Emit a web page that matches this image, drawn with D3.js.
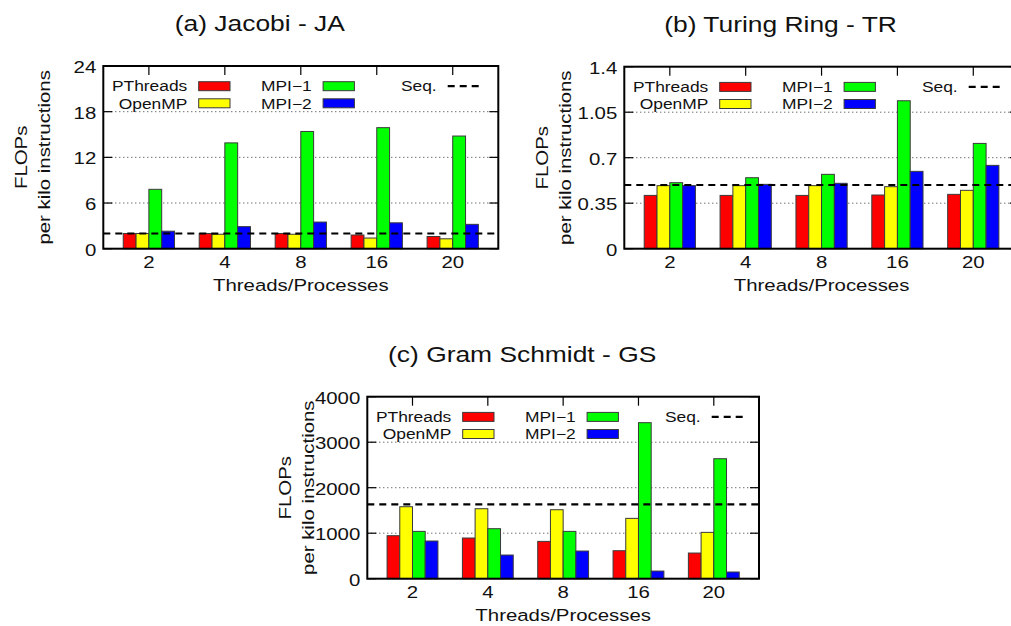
<!DOCTYPE html>
<html>
<head>
<meta charset="utf-8">
<script src="https://cdn.jsdelivr.net/npm/d3@7"></script>
<style>
  body { margin: 0; background: #fff; }
  text { font-family: "Liberation Sans", Arial, sans-serif; fill: #111; }
</style>
</head>
<body>
<div id="chart"></div>
<script>
// categories and series
var threads = ["2", "4", "8", "16", "20"];
var seriesNames = ["PThreads", "OpenMP", "MPI\u22121", "MPI\u22122"];
var seriesColors = ["#ff0000", "#ffff00", "#00ff00", "#0000ff"];

// (a) Jacobi - JA
var jaPThreads = [2.0, 2.0, 2.0, 1.8, 1.6];
var jaOpenMP   = [2.0, 1.9, 1.9, 1.4, 1.3];
var jaMPI1     = [7.8, 13.9, 15.4, 15.9, 14.8];
var jaMPI2     = [2.3, 2.9, 3.5, 3.4, 3.2];
var jaSeq = 2.0;
var jaTicks = [0, 6, 12, 18, 24];

// (b) Turing Ring - TR
var trPThreads = [0.41, 0.41, 0.41, 0.413, 0.418];
var trOpenMP   = [0.485, 0.485, 0.485, 0.477, 0.449];
var trMPI1     = [0.508, 0.546, 0.572, 1.138, 0.81];
var trMPI2     = [0.485, 0.495, 0.503, 0.595, 0.641];
var trSeq = 0.49;
var trTicks = [0, 0.35, 0.7, 1.05, 1.4];

// (c) Gram Schmidt - GS
var gsPThreads = [945, 894, 820, 615, 564];
var gsOpenMP   = [1582, 1538, 1516, 1326, 1018];
var gsMPI1     = [1040, 1099, 1040, 3429, 2637];
var gsMPI2     = [828, 520, 608, 168, 147];
var gsSeq = 1634;
var gsTicks = [0, 1000, 2000, 3000, 4000];

var STRETCH = 1.2; // the reference fonts run wider than Liberation Sans

var svg = d3.select("#chart").append("svg")
    .attr("width", 1011)
    .attr("height", 626);

var panels = [
    { title: "(a) Jacobi - JA", values: [jaPThreads, jaOpenMP, jaMPI1, jaMPI2], seq: jaSeq, ticks: jaTicks,
      left: 103.3, top: 66, width: 395, height: 182.7 },
    { title: "(b) Turing Ring - TR", values: [trPThreads, trOpenMP, trMPI1, trMPI2], seq: trSeq, ticks: trTicks,
      left: 624.3, top: 66.7, width: 394.5, height: 182 },
    { title: "(c) Gram Schmidt - GS", values: [gsPThreads, gsOpenMP, gsMPI1, gsMPI2], seq: gsSeq, ticks: gsTicks,
      left: 367.3, top: 396.7, width: 391.7, height: 182 }
];

function addText(g, x, y, str, size, anchor, rotate) {
    return g.append("text")
        .attr("transform", "translate(" + x + "," + y + ")" + (rotate ? " rotate(" + rotate + ")" : "") + " scale(" + STRETCH + ",1)")
        .attr("text-anchor", anchor || "start")
        .style("font-size", size + "px")
        .text(str);
}

function drawPanel(p) {
    var g = svg.append("g")
        .attr("transform", "translate(" + p.left + "," + p.top + ")");

    var x = d3.scalePoint().domain(threads).range([0, p.width]).padding(0.6);
    var step = x.step();
    var xs = d3.scaleBand().domain(seriesNames).range([-step * 0.3375, step * 0.3375]);
    var y = d3.scaleLinear().domain([0, p.ticks[p.ticks.length - 1]]).range([p.height, 0]);

    // dotted grid
    g.selectAll(".grid").data(p.ticks.slice(1, -1)).enter().append("line")
        .attr("x1", 0).attr("x2", p.width)
        .attr("y1", y).attr("y2", y)
        .attr("stroke", "#333").attr("stroke-width", 1)
        .attr("stroke-dasharray", "1,3");

    // inward tics, mirrored
    g.selectAll(".ytl").data(p.ticks).enter().append("line")
        .attr("x1", 0).attr("x2", 9).attr("y1", y).attr("y2", y)
        .attr("stroke", "#000").attr("stroke-width", 1.2);
    g.selectAll(".ytr").data(p.ticks).enter().append("line")
        .attr("x1", p.width - 9).attr("x2", p.width).attr("y1", y).attr("y2", y)
        .attr("stroke", "#000").attr("stroke-width", 1.2);
    g.selectAll(".xtt").data(threads).enter().append("line")
        .attr("x1", x).attr("x2", x).attr("y1", 0).attr("y2", 9)
        .attr("stroke", "#000").attr("stroke-width", 1.2);
    g.selectAll(".xtb").data(threads).enter().append("line")
        .attr("x1", x).attr("x2", x).attr("y1", p.height - 9).attr("y2", p.height)
        .attr("stroke", "#000").attr("stroke-width", 1.2);

    // bars
    var rows = [];
    p.values.forEach(function(vals, si) {
        vals.forEach(function(v, ci) {
            rows.push({ s: seriesNames[si], c: threads[ci], v: v, color: seriesColors[si] });
        });
    });
    g.selectAll(".bar").data(rows).enter().append("rect")
        .attr("x", function(d) { return x(d.c) + xs(d.s); })
        .attr("width", xs.bandwidth())
        .attr("y", function(d) { return y(d.v); })
        .attr("height", function(d) { return p.height - y(d.v); })
        .attr("fill", function(d) { return d.color; })
        .attr("stroke", "#3a3a3a").attr("stroke-width", 1);

    // sequential baseline
    g.append("line")
        .attr("x1", 0).attr("x2", p.width)
        .attr("y1", y(p.seq)).attr("y2", y(p.seq))
        .attr("stroke", "#000").attr("stroke-width", 2.2)
        .attr("stroke-dasharray", "7,5");

    // frame
    g.append("rect")
        .attr("width", p.width).attr("height", p.height)
        .attr("fill", "none").attr("stroke", "#000").attr("stroke-width", 2);

    // tick labels
    p.ticks.forEach(function(t) {
        addText(g, -7, y(t) + 7, String(t), 17, "end");
    });
    threads.forEach(function(c) {
        addText(g, x(c), p.height + 19.6, c, 17, "middle");
    });

    // axis labels
    addText(g, p.width / 2, p.height + 42, "Threads/Processes", 17, "middle");
    addText(g, -76, p.height / 2, "FLOPs", 17, "middle", -90);
    addText(g, -53.6, p.height / 2, "per kilo instructions", 17, "middle", -90);

    // title
    addText(g, p.width / 2 - 41, -35, p.title, 22, "middle");

    // legend
    var cols = [84, 208.4];
    seriesNames.forEach(function(name, i) {
        var col = Math.floor(i / 2), row = i % 2;
        var cy = 20.2 + row * 17.1;
        addText(g, cols[col], cy + 5.2, name, 14.5, "end");
        g.append("rect")
            .attr("x", cols[col] + 11.4).attr("y", cy - 4.5)
            .attr("width", 31.3).attr("height", 9)
            .attr("fill", seriesColors[i]).attr("stroke", "#3a3a3a").attr("stroke-width", 1);
    });
    addText(g, 333.4, 20.2 + 5.2, "Seq.", 14.5, "end");
    g.append("line")
        .attr("x1", 344.4).attr("x2", 375.7)
        .attr("y1", 20.2).attr("y2", 20.2)
        .attr("stroke", "#000").attr("stroke-width", 2.2)
        .attr("stroke-dasharray", "7,5");
}

panels.forEach(drawPanel);
</script>
</body>
</html>
